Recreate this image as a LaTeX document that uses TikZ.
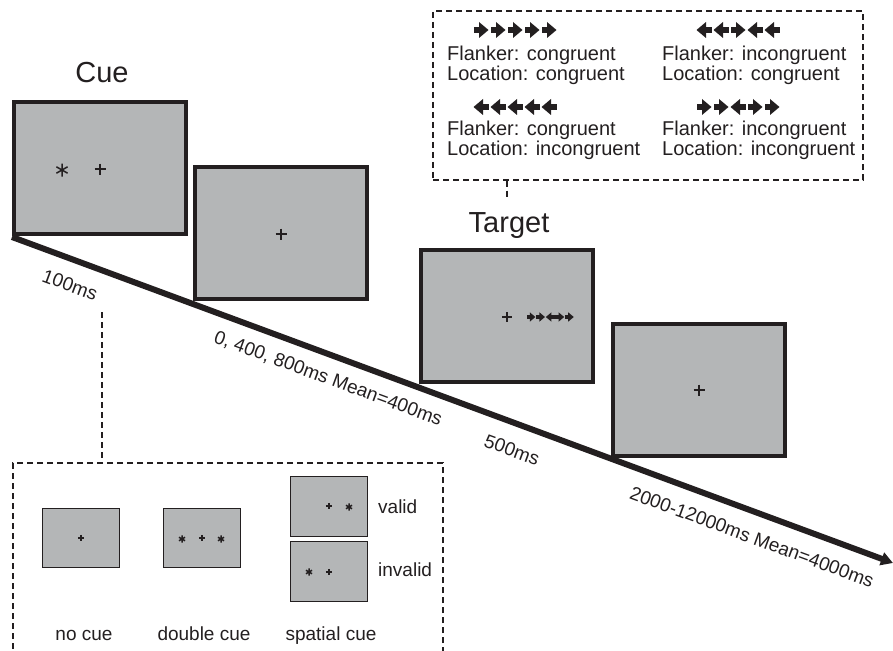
\documentclass[tikz,border=0pt]{standalone}
\usepackage{fontspec}
\setmainfont{Liberation Sans}
\usetikzlibrary{arrows.meta}
\definecolor{scr}{RGB}{180,182,183}
\definecolor{ink}{RGB}{35,31,32}

\tikzset{
  % fixation cross
  fixcross/.pic={\draw[ink, line width=1.5pt] (-5.5,0) -- (5.5,0) (0,-5.5) -- (0,5.5);},
  % cue asterisk
  cuestar/.pic={\draw[ink, line width=1.5pt] (0,-6.5) -- (0,6.5) (-5.6,-3.2) -- (5.6,3.2) (-5.6,3.2) -- (5.6,-3.2);},
  % block arrows used as flanker stimuli
  rarrow/.pic={\fill[ink] (-7.5,-3) rectangle (-1.5,3);
                \fill[ink] (-2,-8) -- (7.5,0) -- (-2,8) -- cycle;},
  larrow/.pic={\fill[ink] (7.5,-3) rectangle (1.5,3);
                \fill[ink] (2,-8) -- (-7.5,0) -- (2,8) -- cycle;}
}

\begin{document}
\begin{tikzpicture}[x=1pt,y=-1pt,
  screen/.style={draw=ink, fill=scr, line width=4pt, minimum width=172pt,
                 minimum height=132pt, inner sep=0pt, outer sep=0pt},
  mini/.style={draw=ink, fill=scr, line width=1.6pt, minimum width=77pt,
               minimum height=59pt, inner sep=0pt, outer sep=0pt},
  dashbox/.style={draw=ink, line width=1.4pt, dash pattern=on 6pt off 4pt},
  title/.style={font=\fontsize{29}{29}\selectfont, text=ink, inner sep=0pt},
  lbl/.style={font=\fontsize{19}{19}\selectfont, text=ink, inner sep=0pt},
  cond/.style={font=\fontsize{20}{20}\selectfont, text=ink, inner sep=0pt,
               align=left, anchor=west},
  timeline/.style={lbl, rotate=-20.3}
]
\useasboundingbox (0,0) rectangle (893,650);
\clip (0,0) rectangle (893,650);

% time axis
\coordinate (t0) at (12,237);
\coordinate (t1) at (893,563);
\draw[ink, line width=6pt, -{Triangle[length=12pt,width=13pt]}] (t0) -- (t1);

% screens of one trial
\node[screen] (s1) at (99.5,168) {};
\node[screen] (s2) at (280.5,233) {};
\node[screen] (s3) at (507,316) {};
\node[screen] (s4) at (698.5,390) {};

\pic at (62,170) {cuestar};
\pic at (100,169) {fixcross};
\pic at (281,234) {fixcross};
\pic[scale=0.9] at (507,317) {fixcross};
\pic at (699,390) {fixcross};

% target row inside the screen: incongruent
\foreach \k/\d in {0/rarrow,1/rarrow,2/larrow,3/rarrow,4/rarrow}
  \pic[scale=0.58] at ({531+\k*9.6},317) {\d};

\node[title, anchor=base] (cue) at (102,83) {Cue};
\node[title, anchor=base] (target) at (509,232) {Target};

% durations
\node[timeline] (d1) at (70,285) {100ms};
\node[timeline] (d2) at (328,379) {0, 400, 800ms Mean=400ms};
\node[timeline] (d3) at (512,450) {500ms};
\node[timeline] (d4) at (752,537) {2000-12000ms Mean=4000ms};

% flanker conditions
\node[dashbox, minimum width=430pt, minimum height=169pt, inner sep=0pt] (conds) at (648,95.5) {};
\coordinate (condlink) at (507,198);
\draw[dashbox] (conds.south -| condlink) -- (condlink);

\foreach \k/\d in {0/rarrow,1/rarrow,2/rarrow,3/rarrow,4/rarrow}
  \pic at ({481+\k*17},30) {\d};
\foreach \k/\d in {0/larrow,1/larrow,2/rarrow,3/larrow,4/larrow}
  \pic at ({704+\k*17},30) {\d};
\foreach \k/\d in {0/larrow,1/larrow,2/larrow,3/larrow,4/larrow}
  \pic at ({481+\k*17},107) {\d};
\foreach \k/\d in {0/rarrow,1/rarrow,2/larrow,3/rarrow,4/rarrow}
  \pic at ({704+\k*17},107) {\d};

\node[cond] (c1) at (447,65) {Flanker: congruent\\Location: congruent};
\node[cond] (c2) at (662,65) {Flanker: incongruent\\Location: congruent};
\node[cond] (c3) at (447,140) {Flanker: congruent\\Location: incongruent};
\node[cond] (c4) at (662,140) {Flanker: incongruent\\Location: incongruent};

% cue conditions
\node[dashbox, minimum width=430pt, minimum height=240pt, inner sep=0pt] (cues) at (228,583) {};
\coordinate (cuelink) at (102,312);
\draw[dashbox] (cuelink) -- (cuelink |- cues.north);

\node[mini] (m1) at (81,538) {};
\node[mini] (m2) at (202,538) {};
\node[mini, minimum height=60pt] (m3) at (329,506.5) {};
\node[mini, minimum height=60pt] (m4) at (329,571.5) {};

\pic[scale=0.55] at (81,538) {fixcross};
\pic[scale=0.55] at (182,539) {cuestar};
\pic[scale=0.55] at (202,538) {fixcross};
\pic[scale=0.55] at (221,539) {cuestar};
\pic[scale=0.55] at (329,506) {fixcross};
\pic[scale=0.55] at (349,507) {cuestar};
\pic[scale=0.55] at (309,572) {cuestar};
\pic[scale=0.55] at (329,572) {fixcross};

\node[lbl, anchor=base west] (valid) at (378,513) {valid};
\node[lbl, anchor=base west] (invalid) at (378,576) {invalid};
\node[lbl, anchor=base] (nocue) at (84,640) {no cue};
\node[lbl, anchor=base] (double) at (204,640) {double cue};
\node[lbl, anchor=base] (spatial) at (331,640) {spatial cue};
\end{tikzpicture}
\end{document}
